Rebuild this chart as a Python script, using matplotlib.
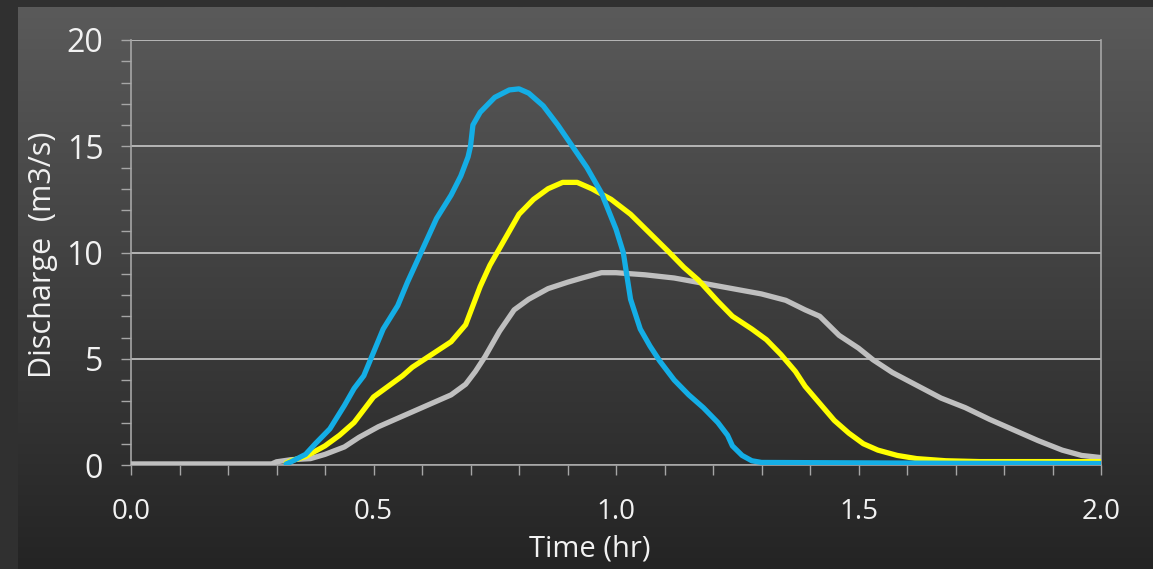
import numpy as np
import matplotlib.pyplot as plt
from matplotlib.ticker import MultipleLocator

# hydrograph points (time in hr, discharge in m3/s)
blue_t = [0.32, 0.33, 0.36, 0.38, 0.41, 0.44, 0.46, 0.48, 0.50, 0.52, 0.55, 0.57, 0.60, 0.63,
          0.66, 0.68, 0.695, 0.70, 0.705, 0.72, 0.75, 0.78, 0.80, 0.82, 0.85, 0.88, 0.91, 0.94,
          0.97, 1.00, 1.015, 1.03, 1.05, 1.07, 1.09, 1.12, 1.15, 1.18, 1.21, 1.23, 1.24, 1.26,
          1.28, 1.30, 1.50, 1.70, 2.00]
blue_q = [0.05, 0.15, 0.5, 1.0, 1.7, 2.8, 3.6, 4.2, 5.3, 6.4, 7.5, 8.6, 10.1, 11.6,
          12.7, 13.6, 14.5, 15.0, 16.0, 16.6, 17.3, 17.65, 17.7, 17.5, 16.9, 16.0, 15.0, 14.0,
          12.8, 11.1, 10.0, 7.8, 6.4, 5.6, 4.9, 4.0, 3.3, 2.7, 2.0, 1.4, 0.9, 0.45,
          0.2, 0.12, 0.1, 0.08, 0.07]

yellow_t = [0.32, 0.33, 0.36, 0.40, 0.43, 0.46, 0.48, 0.50, 0.53, 0.56, 0.58, 0.62, 0.66, 0.69,
            0.71, 0.72, 0.74, 0.755, 0.78, 0.80, 0.83, 0.86, 0.89, 0.92, 0.95, 0.99, 1.03, 1.07,
            1.11, 1.14, 1.17, 1.21, 1.24, 1.28, 1.31, 1.34, 1.37, 1.39, 1.42, 1.45, 1.48, 1.51,
            1.54, 1.58, 1.62, 1.68, 1.75, 2.00]
yellow_q = [0.1, 0.2, 0.4, 0.9, 1.4, 2.0, 2.6, 3.2, 3.7, 4.2, 4.6, 5.2, 5.8, 6.6,
            7.8, 8.4, 9.4, 10.0, 11.0, 11.8, 12.5, 13.0, 13.3, 13.3, 13.0, 12.5, 11.8, 10.9,
            10.0, 9.3, 8.7, 7.7, 7.0, 6.4, 5.9, 5.2, 4.4, 3.7, 2.9, 2.1, 1.5, 1.0,
            0.7, 0.45, 0.3, 0.2, 0.16, 0.16]

grey_t = [0.0, 0.29, 0.30, 0.33, 0.37, 0.40, 0.44, 0.47, 0.51, 0.55, 0.58, 0.62, 0.66, 0.69,
          0.71, 0.73, 0.76, 0.79, 0.82, 0.86, 0.90, 0.93, 0.97, 1.00, 1.06, 1.12, 1.18, 1.24,
          1.30, 1.35, 1.39, 1.42, 1.46, 1.50, 1.53, 1.57, 1.62, 1.67, 1.72, 1.77, 1.82, 1.87,
          1.92, 1.96, 2.00]
grey_q = [0.05, 0.05, 0.15, 0.25, 0.3, 0.5, 0.85, 1.3, 1.8, 2.2, 2.5, 2.9, 3.3, 3.8,
          4.4, 5.1, 6.3, 7.3, 7.8, 8.3, 8.6, 8.8, 9.05, 9.05, 8.95, 8.8, 8.55, 8.3,
          8.05, 7.75, 7.3, 7.0, 6.1, 5.5, 4.95, 4.35, 3.75, 3.15, 2.7, 2.15, 1.65, 1.15,
          0.7, 0.45, 0.35]

W, H = 1153, 569
fig = plt.figure(figsize=(W / 100, H / 100), dpi=100, facecolor='#303030')

# gradient panel behind the plot
bg = fig.add_axes([18 / W, 0, 1 - 18 / W, 1 - 7 / H])
grad = np.linspace(0, 1, 256).reshape(-1, 1)
top = np.array([0x5a, 0x5a, 0x5a]) / 255
bot = np.array([0x24, 0x24, 0x24]) / 255
img = top + (bot - top) * grad[:, :, None]
bg.imshow(img, aspect='auto', extent=[0, 1, 0, 1])
bg.axis('off')

ax = fig.add_axes([131 / W, 104 / H, 970 / W, 425 / H])
ax.patch.set_alpha(0)

style = dict(lw=3.8, solid_joinstyle='round', solid_capstyle='round')
ax.plot(grey_t, grey_q, color='#bfbfbf', zorder=3, **style)
ax.plot(yellow_t, yellow_q, color='#ffff00', zorder=4, **style)
ax.plot(blue_t, blue_q, color='#14aee6', zorder=5, **style)

ax.set_xlim(0, 2.0)
ax.set_ylim(0, 20)
ax.xaxis.set_major_locator(MultipleLocator(0.5))
ax.xaxis.set_minor_locator(MultipleLocator(0.1))
ax.yaxis.set_major_locator(MultipleLocator(5))
ax.yaxis.set_minor_locator(MultipleLocator(1))
ax.xaxis.set_major_formatter(lambda v, p: '%.1f' % v)

ax.grid(axis='y', which='major', color='#c8c8c8', lw=1.2, zorder=1)
for s in ['left', 'bottom', 'right']:
    ax.spines[s].set_color('#a6a6a6')
    ax.spines[s].set_linewidth(1.2)
ax.spines['top'].set_visible(False)

ax.tick_params(which='both', direction='out', color='#a6a6a6', width=1.0, length=7)
ax.tick_params(axis='y', which='major', labelsize=23, pad=13, labelcolor='#f2f2f2')
ax.tick_params(axis='x', which='major', labelsize=20, pad=17, labelcolor='#f2f2f2')
ax.tick_params(right=False)

font = 'Open Sans'
for lbl in ax.get_xticklabels() + ax.get_yticklabels():
    lbl.set_family(font)

ax.set_xlabel('Time (hr)', fontsize=21, color='#f2f2f2', family=font)
ax.set_ylabel('Discharge  (m3/s)', fontsize=22, color='#f2f2f2', family=font)
ax.xaxis.set_label_coords((590 - 131) / 970, -(549 - 465) / 425)
ax.yaxis.set_label_coords(-(131 - 43) / 970, (465 - 255) / 425)
ax.xaxis.label.set_va('center')
ax.yaxis.label.set_va('center')

fig.savefig('out.png', dpi=100, facecolor=fig.get_facecolor())
